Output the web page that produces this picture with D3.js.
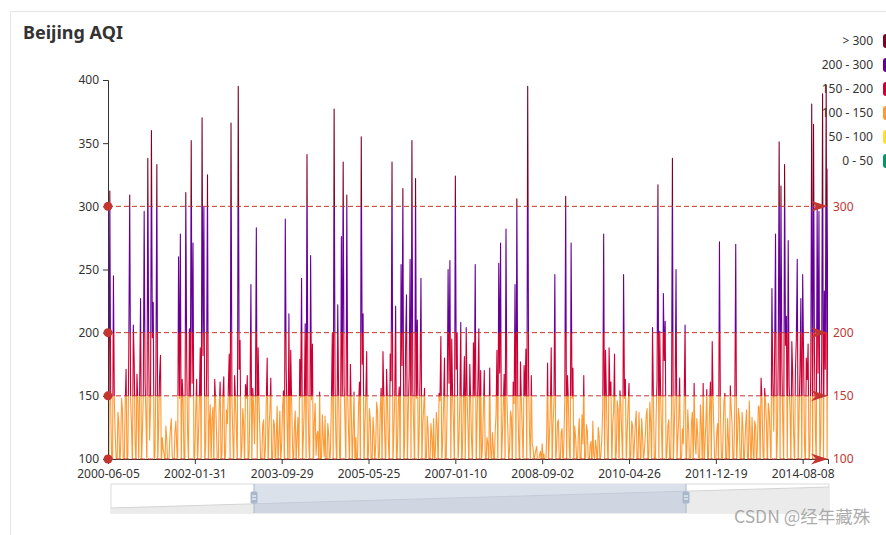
<!DOCTYPE html>
<html><head><meta charset="utf-8">
<script src="https://cdn.jsdelivr.net/npm/d3@7/dist/d3.min.js"></script>
<style>
html,body{margin:0;padding:0;background:#fff;}
svg{display:block;font-family:"Microsoft YaHei","Noto Sans","Open Sans",sans-serif;}
</style></head><body>
<svg id="chart" width="886" height="535"></svg>
<script>
// ---- data ----
const tickLabels = ["2000-06-05","2002-01-31","2003-09-29","2005-05-25","2007-01-10","2008-09-02","2010-04-26","2011-12-19","2014-08-08"];
const tickEvery = 96;
const aqiValues = [
135,92,312,140,102,88,245,146,118,101,96,137,128,94,110,148,139,90,98,143,
171,95,104,188,309,147,126,92,206,176,112,96,167,145,98,158,227,93,120,149,
296,162,131,95,338,184,115,141,360,196,224,90,108,172,333,96,125,165,182,92,
117,108,104,97,126,115,95,89,111,124,132,102,99,96,121,130,110,93,260,148,
278,94,163,146,102,91,311,178,120,97,203,149,352,160,271,92,105,138,163,96,
118,147,188,91,370,182,300,95,112,169,325,92,128,143,97,132,141,96,163,145,
121,90,99,142,161,97,104,148,165,91,106,139,128,155,183,94,366,147,118,93,
166,144,121,95,395,171,194,97,109,140,127,92,159,148,166,90,104,146,238,94,
156,141,112,149,283,98,188,143,119,90,98,127,131,95,109,146,180,92,124,139,
164,95,101,131,127,89,116,142,96,117,138,96,112,141,154,93,290,170,128,91,
215,97,186,146,110,92,124,138,96,118,133,94,179,149,243,96,118,142,207,93,
341,152,112,96,261,147,191,91,128,144,103,119,122,92,153,97,99,135,116,102,
134,91,97,128,119,94,108,147,200,96,377,160,113,92,222,148,104,91,276,150,
335,158,130,94,309,149,121,95,175,138,98,121,153,96,117,90,106,143,161,97,
355,175,215,93,126,148,185,91,107,140,131,92,99,133,120,97,112,145,138,94,
104,139,156,93,185,147,118,92,171,144,112,96,183,162,335,94,121,148,221,90,
110,145,157,96,254,174,314,93,115,190,230,95,138,168,258,97,352,155,124,92,
322,148,210,93,119,166,243,95,127,141,156,96,101,134,122,92,96,128,117,99,
132,94,108,137,126,92,152,146,197,97,114,143,180,91,103,145,250,160,257,95,
195,149,128,94,324,171,200,97,116,145,208,92,112,148,181,96,204,150,124,91,
175,143,113,96,192,149,254,93,130,161,203,95,170,98,110,139,170,104,98,117,
112,96,172,108,95,121,108,94,121,135,186,92,255,168,271,96,118,142,167,93,
282,147,124,97,109,138,133,91,161,144,238,96,306,149,115,93,177,146,123,95,
174,150,187,96,395,164,120,97,166,112,108,99,103,107,110,95,98,103,106,98,
112,100,104,92,96,118,176,95,118,137,188,92,127,144,246,97,109,129,131,94,
97,121,124,91,113,147,308,96,166,145,108,94,271,148,172,93,126,117,101,96,
119,132,94,99,135,112,166,93,102,127,122,96,97,110,114,92,130,104,99,115,
108,93,125,118,96,104,117,142,278,96,186,149,112,93,188,150,161,95,127,138,
183,96,106,146,139,92,154,143,118,97,246,148,163,95,122,141,160,93,104,130,
126,97,112,128,138,93,101,137,115,94,132,119,98,107,118,134,140,92,107,145,
128,95,204,147,97,93,134,162,317,96,201,149,121,92,231,178,209,94,106,126,
131,97,99,140,338,92,124,148,250,95,118,131,164,93,96,124,112,147,206,94,
108,139,122,92,95,128,137,96,160,114,104,132,118,92,99,143,126,96,160,94,
112,128,155,93,104,139,161,97,193,146,119,92,97,121,128,96,272,143,105,91,
121,146,152,95,99,132,114,91,158,140,127,96,103,145,270,93,118,140,132,92,
96,137,124,92,109,128,139,97,101,146,117,93,133,111,95,130,126,93,112,142,
141,95,164,147,108,92,156,144,127,91,144,138,118,93,235,160,122,184,278,96,
115,182,351,94,316,174,128,96,333,190,213,93,273,158,138,95,193,166,120,94,
170,195,258,92,134,170,227,96,246,182,112,93,180,163,191,95,108,176,381,93,
365,185,124,94,300,168,296,97,118,178,389,92,233,171,396,96,330
];
const yTicks = [100,150,200,250,300,350,400];
const markLevels = [300,200,150,100];
const pieceLower = [300,200,150,100,50,0];
const pieceUpper = [Infinity,300,200,150,100,50];
const pieceLabels = ["> 300","200 - 300","150 - 200","100 - 150","50 - 100","0 - 50"];
const pieceColors = ["#7e0023","#660099","#cc0033","#ff9933","#ffde33","#009966"];

// ---- layout ----
const svg = d3.select("#chart");
const W = 886, H = 535;
const plot = {left:108, right:828, top:80, bottom:459};
const n = aqiValues.length;

// card border
svg.append("path").attr("d", `M10.5,${H} V11.5 H${W}`).attr("fill","none").attr("stroke","#e6e6e6");

// title
svg.append("text").attr("x",23).attr("y",39).attr("font-size",18).attr("font-weight","bold")
  .attr("fill","#333").text("Beijing AQI");

const x = d3.scalePoint().domain(d3.range(n)).range([plot.left, plot.right]).padding(0);
const y = d3.scaleLinear().domain([100,400]).range([plot.bottom, plot.top]);

// gradient for visual pieces
const defs = svg.append("defs");
const g0 = 0, g1 = 500;
const grad = defs.append("linearGradient").attr("id","aqiGrad").attr("gradientUnits","userSpaceOnUse")
  .attr("x1",0).attr("x2",0).attr("y1",y(g0)).attr("y2",y(g1));
for (let k = pieceLower.length - 1; k >= 0; k--) {
  const lo = pieceLower[k], hi = Math.min(pieceUpper[k], g1);
  grad.append("stop").attr("offset",(lo-g0)/(g1-g0)).attr("stop-color",pieceColors[k]);
  grad.append("stop").attr("offset",(hi-g0)/(g1-g0)).attr("stop-color",pieceColors[k]);
}
defs.append("clipPath").attr("id","plotClip").append("rect")
  .attr("x",plot.left).attr("y",plot.top-10).attr("width",plot.right-plot.left).attr("height",plot.bottom-plot.top+10);

// series line
const line = d3.line().x((d,i)=>x(i)).y(d=>y(d));
svg.append("path").datum(aqiValues).attr("d",line).attr("fill","none")
  .attr("stroke","url(#aqiGrad)").attr("stroke-width",1.1).attr("stroke-linejoin","round")
  .attr("clip-path","url(#plotClip)");

// axes
const xAxis = d3.axisBottom(x).tickValues(d3.range(0,n,tickEvery)).tickFormat(i=>tickLabels[i/tickEvery]).tickSize(5).tickPadding(5);
const gx = svg.append("g").attr("transform",`translate(0,${plot.bottom})`).call(xAxis);
const yAxis = d3.axisLeft(y).tickValues(yTicks).tickSize(5).tickPadding(4);
const gy = svg.append("g").attr("transform",`translate(${plot.left},0)`).call(yAxis);
[gx,gy].forEach(g=>{
  g.selectAll("path,line").attr("stroke","#333");
  g.selectAll("text").attr("fill","#333").attr("font-size",12).attr("font-family",'"Microsoft YaHei","Noto Sans",sans-serif');
});

// mark lines
const mk = svg.append("g");
const mcol = "#c23531";
markLevels.forEach(v=>{
  const yy = y(v);
  mk.append("line").attr("x1",plot.left).attr("x2",plot.right-8).attr("y1",yy).attr("y2",yy)
    .attr("stroke",mcol).attr("stroke-dasharray","5,3").attr("stroke-width",1);
  mk.append("circle").attr("cx",plot.left).attr("cy",yy).attr("r",4.5).attr("fill",mcol);
  const tx = plot.right;
  mk.append("path").attr("d",`M${tx},${yy} L${tx-17},${yy-5.5} L${tx-12},${yy} L${tx-17},${yy+5.5} Z`).attr("fill",mcol);
  mk.append("text").attr("x",tx+5).attr("y",yy).attr("dy","0.35em").attr("font-size",12)
    .attr("fill",mcol).text(v);
});

// visual map legend
const lg = svg.append("g");
pieceLabels.forEach((lab,k)=>{
  const cy = 41 + k*24;
  lg.append("rect").attr("x",883).attr("y",cy-7).attr("width",20).attr("height",14).attr("rx",3)
    .attr("fill",pieceColors[k]);
  lg.append("text").attr("x",873).attr("y",cy).attr("dy","0.35em").attr("text-anchor","end")
    .attr("font-size",12).attr("fill","#333").text(lab);
});

// data zoom slider
const sz = {x0:111, x1:829, top:484, bottom:513};
const zs = svg.append("g");
const shadowY0 = 508, shadowY1 = 487;
const sx = d3.scaleLinear().domain([0,1]).range([sz.x0, sz.x1]);
const shY = t => shadowY0 + (shadowY1-shadowY0)*t;
zs.append("rect").attr("x",sz.x0).attr("y",sz.top).attr("width",sz.x1-sz.x0).attr("height",sz.bottom-sz.top)
  .attr("fill","#fff").attr("stroke","#dcdcdc");
zs.append("path").attr("d",`M${sx(0)},${shY(0)} L${sx(1)},${shY(1)} L${sx(1)},${sz.bottom} L${sx(0)},${sz.bottom} Z`)
  .attr("fill","#ebebeb");
zs.append("path").attr("d",`M${sx(0)},${shY(0)} L${sx(1)},${shY(1)}`).attr("stroke","#d4d4d4").attr("fill","none");
const hx0 = 254, hx1 = 686;
const ta = (hx0-sz.x0)/(sz.x1-sz.x0), tb = (hx1-sz.x0)/(sz.x1-sz.x0);
zs.append("rect").attr("x",hx0).attr("y",sz.top).attr("width",hx1-hx0).attr("height",sz.bottom-sz.top)
  .attr("fill","#dbe1ea");
zs.append("path").attr("d",`M${hx0},${shY(ta)} L${hx1},${shY(tb)} L${hx1},${sz.bottom} L${hx0},${sz.bottom} Z`)
  .attr("fill","#cfd6e1");
zs.append("path").attr("d",`M${hx0},${shY(ta)} L${hx1},${shY(tb)}`).attr("stroke","#c3ccd9").attr("fill","none");
[hx0,hx1].forEach(hx=>{
  zs.append("line").attr("x1",hx).attr("x2",hx).attr("y1",sz.top).attr("y2",sz.bottom).attr("stroke","#a9b8cc");
  zs.append("rect").attr("x",hx-3.5).attr("y",491.5).attr("width",7).attr("height",12).attr("rx",1.5).attr("fill","#a9b8cc");
  zs.append("line").attr("x1",hx-2).attr("x2",hx+2).attr("y1",496).attr("y2",496).attr("stroke","#fff");
  zs.append("line").attr("x1",hx-2).attr("x2",hx+2).attr("y1",499).attr("y2",499).attr("stroke","#fff");
});

// watermark
svg.append("text").attr("x",734).attr("y",523).attr("font-size",17.5)
  .attr("font-family",'"Noto Sans CJK SC","Noto Sans",sans-serif')
  .attr("fill","#9e9e9e").attr("opacity",0.85).text("CSDN @经年藏殊");
</script>
</body></html>
